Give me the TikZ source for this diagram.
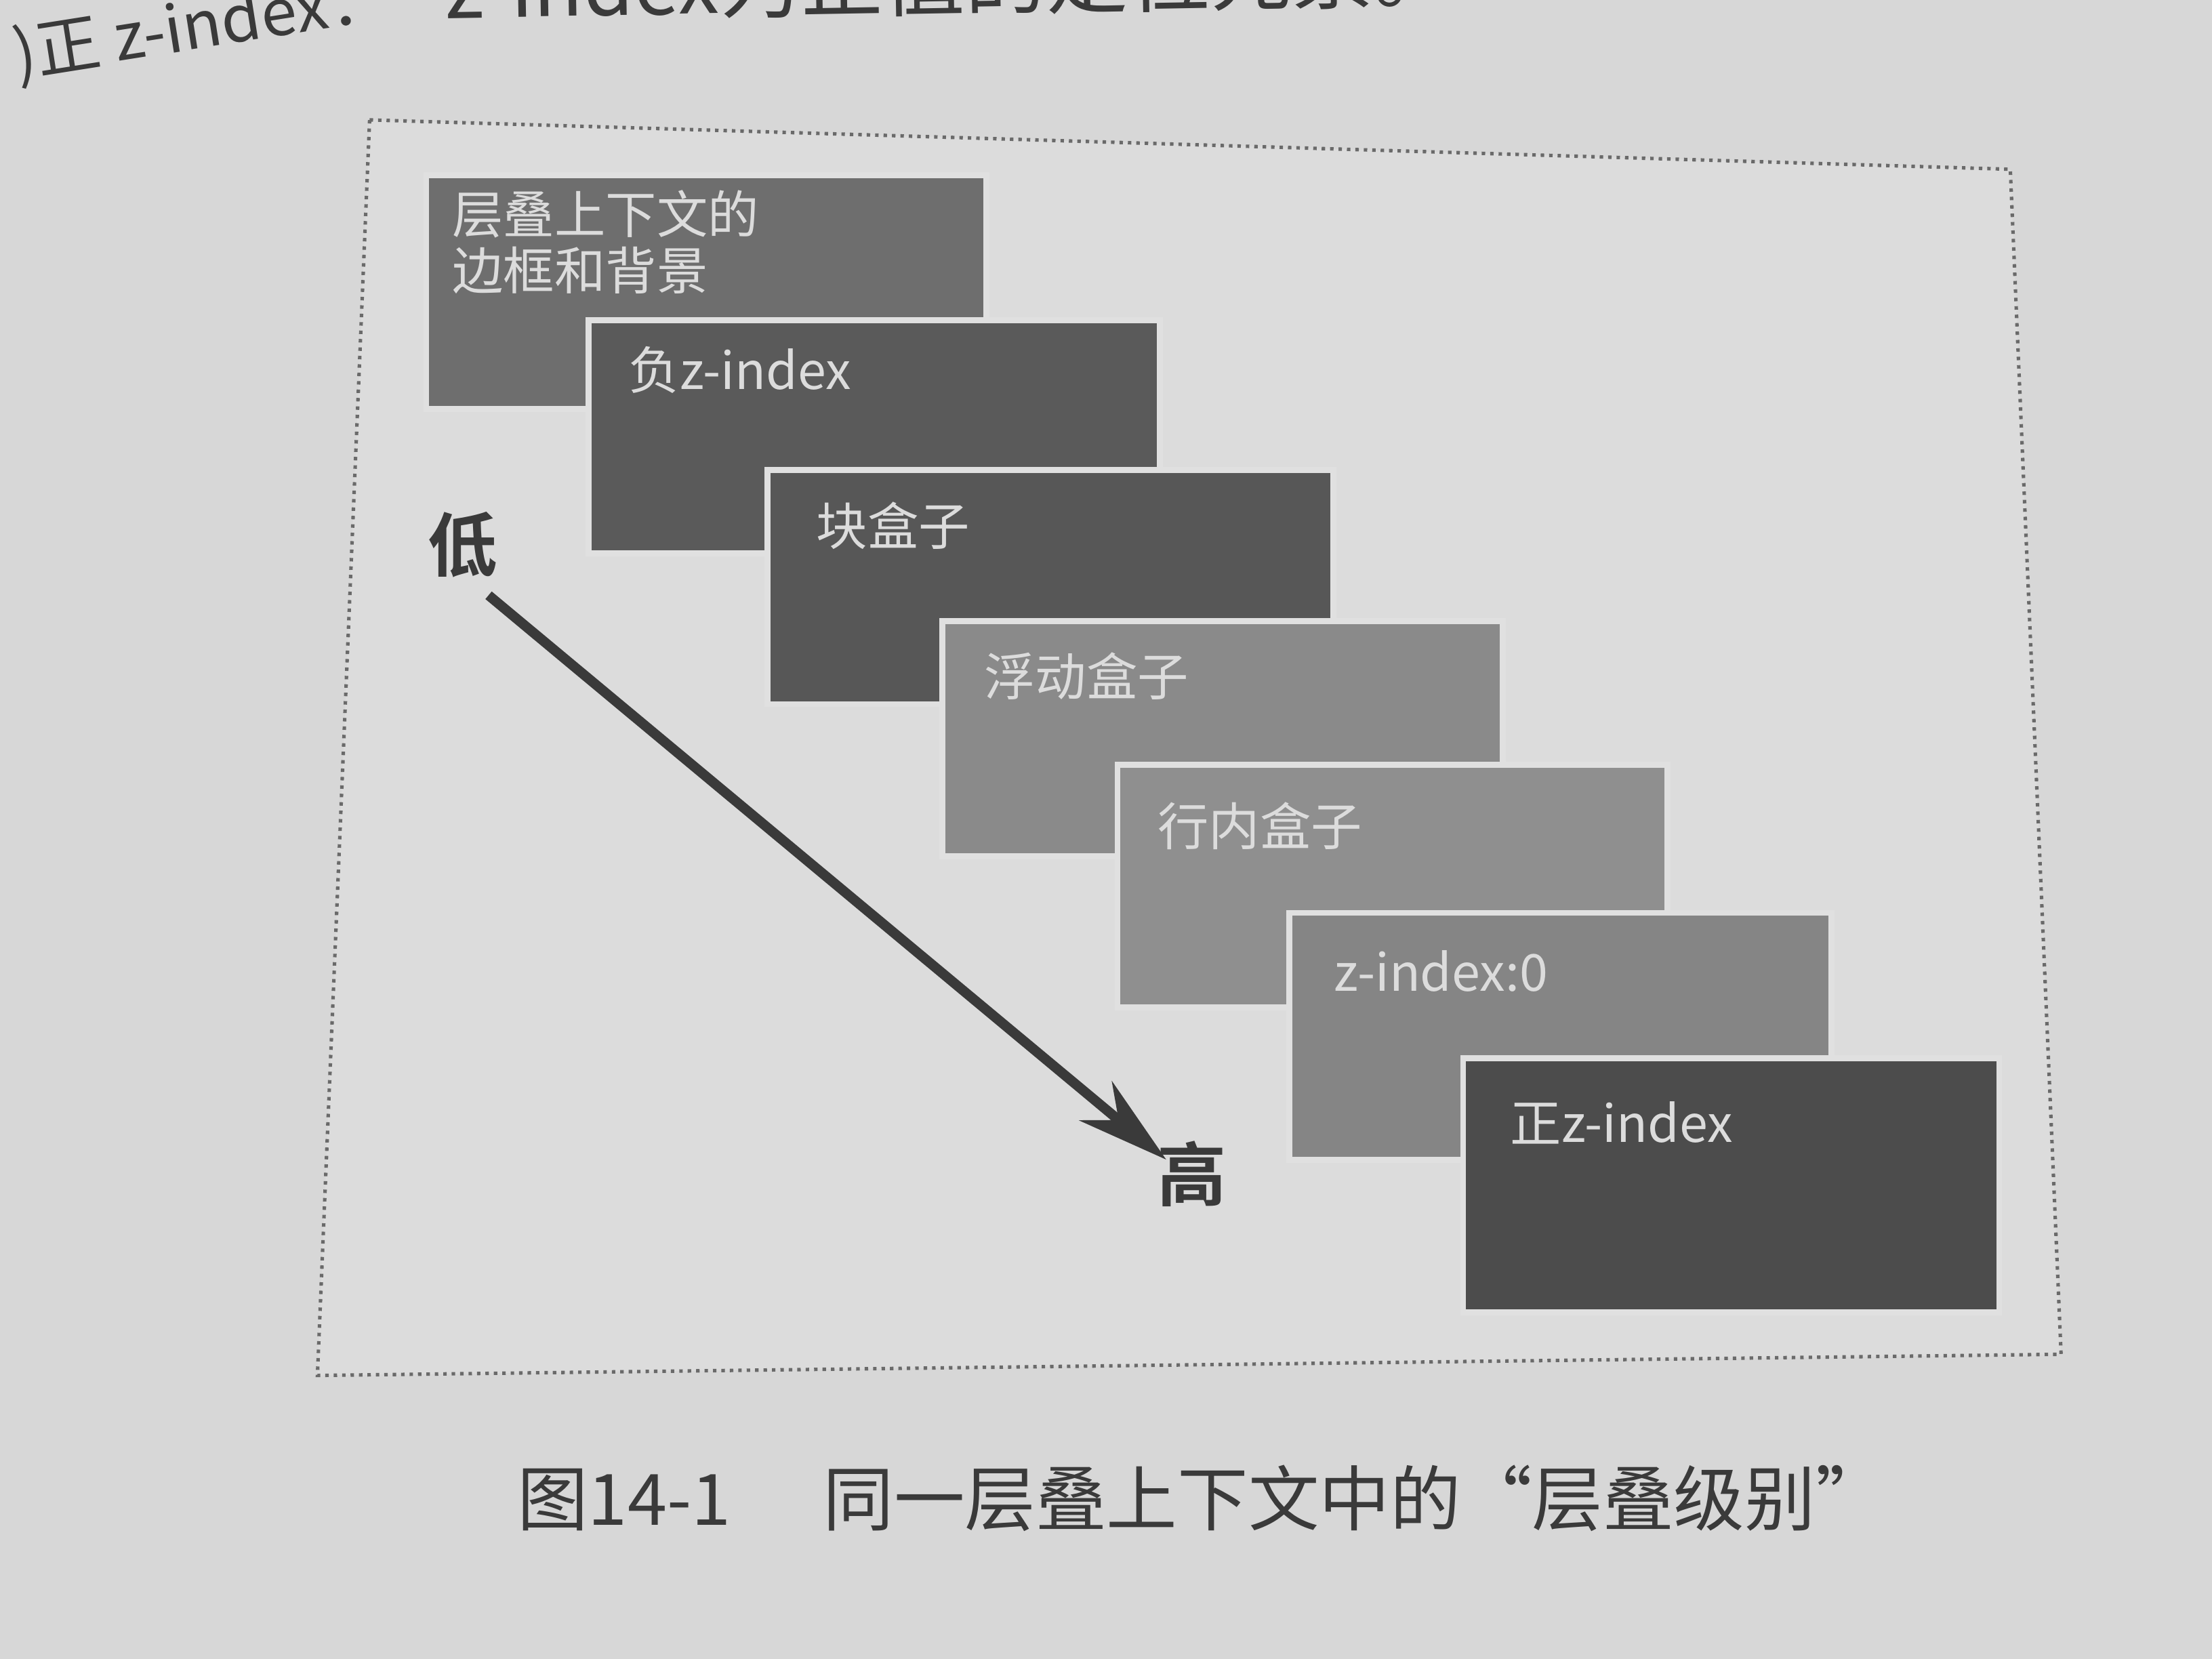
\documentclass[tikz,border=0pt]{standalone}
\usepackage{fontspec}
\usepackage{xcolor}
\usepackage{tikz}
\usetikzlibrary{arrows.meta,positioning}

\newfontfamily\cjk{Noto Sans CJK SC}[BoldFont={Noto Sans CJK SC Bold}]

\definecolor{paper}{HTML}{D7D7D7}
\definecolor{inner}{HTML}{DCDCDC}
\definecolor{rim}{HTML}{E0E0E0}
\definecolor{frameline}{HTML}{6A6A6A}
\definecolor{boxtext}{HTML}{DCDCDC}
\definecolor{ink}{HTML}{3A3A3A}
\definecolor{ctxgray}{HTML}{6E6E6E}
\definecolor{neggray}{HTML}{5A5A5A}
\definecolor{blockgray}{HTML}{575757}
\definecolor{floatgray}{HTML}{8A8A8A}
\definecolor{inlinegray}{HTML}{8F8F8F}
\definecolor{zerogray}{HTML}{858585}
\definecolor{posgray}{HTML}{4C4C4C}

\begin{document}
\begin{tikzpicture}[
    layer/.style={draw=rim, line width=1.2pt, anchor=north west, inner sep=0pt},
    lbl/.style={anchor=north west, inner sep=0pt, text=boxtext, align=left,
        font=\cjk\fontsize{10.3}{11.4}\selectfont},
    tag/.style={inner sep=0pt, text=ink, font=\cjk\bfseries\fontsize{14}{16}\selectfont},
    pagetext/.style={inner sep=0pt, text=ink, font=\cjk\fontsize{13}{15}\selectfont},
    arrow/.style={-{Stealth[length=6.5mm, width=3.6mm]}, line width=2pt, draw=ink}]

    % page and frame
    \fill[paper] (0,0) rectangle (15.68,-11.76);
    \useasboundingbox (0,0) rectangle (15.68,-11.76);
    \draw[frameline, line width=0.7pt, densely dotted, fill=inner]
        (2.62,-0.85) -- (14.25,-1.20) -- (14.61,-9.60) -- (2.25,-9.75) -- cycle;

    % text of the page above the figure
    \node[pagetext, rotate=9, anchor=base west] (prev) at (0.12,-0.55) {)正 z-index：};
    \node[pagetext, rotate=1, anchor=base west, font=\cjk\fontsize{16.5}{19}\selectfont]
        (prevend) at (3.15,-0.13) {z-index为正值的定位元素。};

    % stacking layers, lowest first
    \node[layer, fill=ctxgray, minimum width=3.97cm, minimum height=1.66cm] (ctx) at (3.00,-1.22) {};
    \node[lbl, below right=0.12cm and 0.2cm of ctx.north west] (ctx-t) {层叠上下文的\\边框和背景};

    \node[layer, fill=neggray, minimum width=4.05cm, minimum height=1.65cm] (neg) at (4.15,-2.25) {};
    \node[lbl, below right=0.2cm and 0.3cm of neg.north west] (neg-t) {负z-index};

    \node[layer, fill=blockgray, minimum width=4.01cm, minimum height=1.66cm] (block) at (5.42,-3.31) {};
    \node[lbl, below right=0.24cm and 0.36cm of block.north west] (block-t) {块盒子};

    \node[layer, fill=floatgray, minimum width=3.97cm, minimum height=1.67cm] (float) at (6.66,-4.38) {};
    \node[lbl, below right=0.24cm and 0.31cm of float.north west] (float-t) {浮动盒子};

    \node[layer, fill=inlinegray, minimum width=3.90cm, minimum height=1.72cm] (inline) at (7.90,-5.40) {};
    \node[lbl, below right=0.28cm and 0.3cm of inline.north west] (inline-t) {行内盒子};

    \node[layer, fill=zerogray, minimum width=3.84cm, minimum height=1.75cm] (zero) at (9.12,-6.45) {};
    \node[lbl, below right=0.28cm and 0.33cm of zero.north west] (zero-t) {z-index:0};

    \node[layer, fill=posgray, minimum width=3.80cm, minimum height=1.80cm] (pos) at (10.35,-7.48) {};
    \node[lbl, below right=0.32cm and 0.35cm of pos.north west] (pos-t) {正z-index};

    % low to high
    \node[tag] (low) at (3.28,-3.86) {低};
    \node[tag] (high) at (8.45,-8.32) {高};
    \draw[arrow] ([shift={(-0.07,-0.12)}]low.south east) -- ([shift={(0.07,-0.14)}]high.north west);

    % caption
    \node[pagetext, font=\cjk\fontsize{14.3}{16}\selectfont, anchor=west] (cap) at (3.66,-10.62)
        {图14-1\hspace{1.3em}同一层叠上下文中的“层叠级别”};
\end{tikzpicture}
\end{document}
